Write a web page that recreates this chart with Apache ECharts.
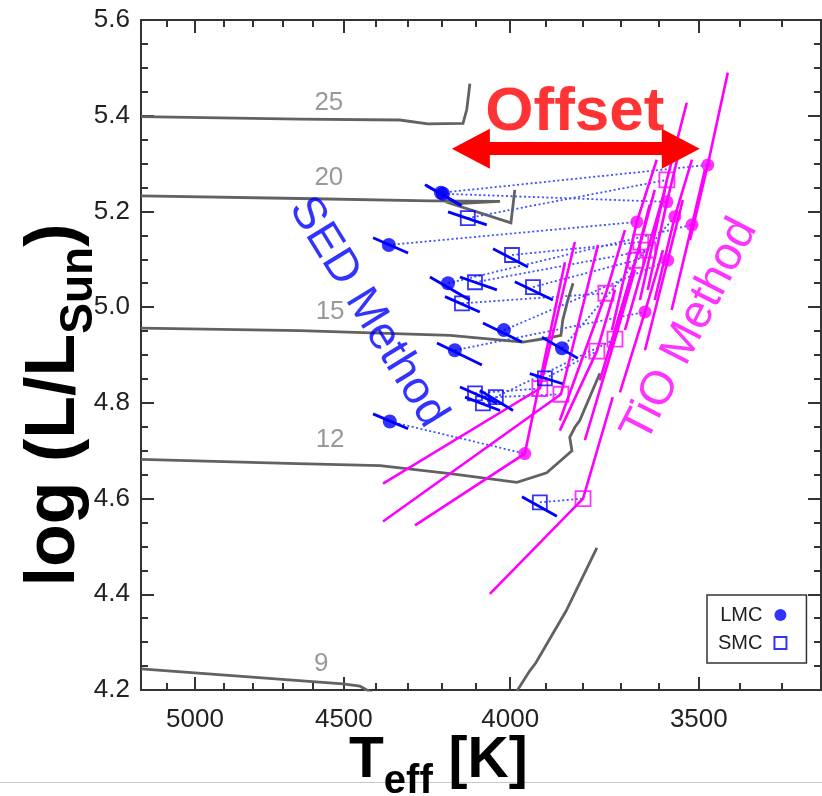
<!DOCTYPE html>
<html><head><meta charset="utf-8">
<script src="https://cdn.jsdelivr.net/npm/echarts@6/dist/echarts.min.js"></script>
<style>html,body{margin:0;padding:0;background:#fff;}#c{width:822px;height:796px;}</style>
</head><body><div id="c"></div>
<script>
// ---------- axis ticks ----------
const xMajorTicks = [3500, 4000, 4500, 5000];
const xMinorTicks = [3300, 3400, 3600, 3700, 3800, 3900, 4100, 4200, 4300, 4400, 4600, 4700, 4800, 4900, 5100];

// ---------- evolutionary tracks (Teff [K], log L) ----------
const track25Teff = [5195, 4642, 4325, 4240, 4136, 4125, 4119, 4116];
const track25LogL = [5.398, 5.393, 5.391, 5.383, 5.384, 5.413, 5.448, 5.467];
const track20Teff = [5195, 4642, 4234, 4029, 4169, 3998, 3987];
const track20LogL = [5.2325, 5.227, 5.222, 5.221, 5.216, 5.176, 5.245];
const track15Teff = [5195, 4642, 4174, 3964, 3898, 3859, 3854, 3840, 3826];
const track15LogL = [4.956, 4.951, 4.941, 4.927, 4.935, 4.941, 4.973, 5.015, 5.050];
const track12Teff = [5195, 4652, 4386, 4174, 3981, 3898, 3829, 3835, 3821, 3808, 3754];
const track12LogL = [4.682, 4.673, 4.669, 4.652, 4.634, 4.654, 4.700, 4.728, 4.749, 4.763, 4.862];
const track9Teff = [5195, 4503, 4449, 4411];
const track9LogL = [4.244, 4.213, 4.208, 4.194];
const track9RsgTeff = [3981, 3945, 3928, 3845, 3762];
const track9RsgLogL = [4.198, 4.240, 4.257, 4.365, 4.497];
const trackLabels = ['25', '20', '15', '12', '9'];
const trackLabelTeff = [4548, 4548, 4544, 4544, 4573];
const trackLabelLogL = [5.427, 5.270, 4.990, 4.722, 4.254];

// ---------- SED method, LMC (filled circles) ----------
const sedLmcTeff = [4201, 4195, 4359, 4180, 4018, 4160, 3856, 4356];
const sedLmcLogL = [5.239, 5.237, 5.130, 5.050, 4.952, 4.910, 4.914, 4.761];
const sedLmcHiTeff = [4249, 4245, 4408, 4234, 4078, 4213, 3911, 4408];
const sedLmcHiLogL = [5.256, 5.254, 5.145, 5.063, 4.967, 4.925, 4.937, 4.777];
const sedLmcLoTeff = [4145, 4140, 4300, 4116, 3967, 4081, 3813, 4300];
const sedLmcLoLogL = [5.214, 5.212, 5.113, 5.015, 4.927, 4.879, 4.893, 4.746];
// ---------- TiO method, LMC (same stars, same order) ----------
const tioLmcTeff = [3478, 3580, 3657, 3517, 3578, 3636, 3560, 3959];
const tioLmcLogL = [5.297, 5.220, 5.178, 5.172, 5.098, 4.990, 5.189, 4.694];
const tioLmcLoTeff = [3522, 3629, 3722, 3568, 3636, 3701, 3611, 4279];
const tioLmcLoLogL = [5.140, 5.036, 4.952, 4.994, 4.910, 4.822, 5.015, 4.544];
const tioLmcHiTeff = [3429, 3545, 3606, 3485, 3540, 3590, 3517, 3848];
const tioLmcHiLogL = [5.490, 5.339, 5.308, 5.287, 5.224, 5.119, 5.308, 5.094];

// ---------- SED method, SMC (open squares) ----------
const sedSmcTeff = [4122, 3995, 4101, 3936, 4139, 3903, 4101, 4041, 4078, 3917];
const sedSmcLogL = [5.186, 5.109, 5.052, 5.042, 5.008, 4.851, 4.820, 4.812, 4.799, 4.592];
const sedSmcHiTeff = [4180, 4049, 4145, 3987, 4189, 3945, 4145, 4087, 4130, 3967];
const sedSmcHiLogL = [5.199, 5.122, 5.063, 5.053, 5.022, 4.861, 4.833, 4.826, 4.812, 4.604];
const sedSmcLoTeff = [4067, 3950, 4038, 3881, 4087, 3854, 4038, 3992, 4029, 3870];
const sedSmcLoLogL = [5.172, 5.084, 5.036, 5.015, 4.990, 4.840, 4.799, 4.784, 4.784, 4.563];
// ---------- TiO method, SMC ----------
const tioSmcTeff = [3580, 3647, 3629, 3660, 3738, 3762, 3917, 3859, 3714, 3799];
const tioSmcLogL = [5.266, 5.136, 5.119, 5.098, 5.029, 4.908, 4.830, 4.818, 4.933, 4.600];
const tioSmcLoTeff = [3649, 3728, 3688, 3754, 3862, 3862, 4377, 4377, 3794, 4058];
const tioSmcLoLogL = [5.015, 4.910, 4.952, 4.847, 4.763, 4.742, 4.631, 4.552, 4.722, 4.401];
const tioSmcHiTeff = [3530, 3611, 3585, 3624, 3688, 3714, 3821, 3759, 3662, 3720];
const tioSmcHiLogL = [5.427, 5.245, 5.245, 5.214, 5.161, 5.036, 5.136, 5.130, 5.078, 4.812];

// ---------- helpers ----------
const FONT = '"Liberation Sans", Arial, Helvetica, sans-serif';
const pairs = (t, l) => t.map((v, i) => [v, l[i]]);
const tracks = [
  pairs(track25Teff, track25LogL), pairs(track20Teff, track20LogL),
  pairs(track15Teff, track15LogL), pairs(track12Teff, track12LogL),
  pairs(track9Teff, track9LogL), pairs(track9RsgTeff, track9RsgLogL)
];
const bars = (hiT, hiL, loT, loL) => hiT.map((v, i) => ({coords: [[v, hiL[i]], [loT[i], loL[i]]]}));
const tioLines = (loT, loL, t, l, hiT, hiL) => t.map((v, i) => ({coords: [[loT[i], loL[i]], [v, l[i]], [hiT[i], hiL[i]]]}));
const links = (t1, l1, t2, l2) => t1.map((v, i) => ({coords: [[v, l1[i]], [t2[i], l2[i]]]}));

const AX = '#333';
const xBase = {type: 'log', logBase: 10, min: 3210, max: 5195, inverse: true,
  axisLine: {show: false}, splitLine: {show: false}};
const tickStyle = {color: AX, width: 2};
const xAxes = [
  Object.assign({}, xBase, {position: 'bottom',
    axisTick: {inside: true, length: 13, lineStyle: tickStyle, customValues: xMajorTicks},
    axisLabel: {customValues: xMajorTicks, fontSize: 26, color: '#222', fontFamily: FONT, margin: 17,
      formatter: v => String(Math.round(v))}}),
  Object.assign({}, xBase, {position: 'bottom',
    axisTick: {inside: true, length: 7, lineStyle: tickStyle, customValues: xMinorTicks},
    axisLabel: {show: false}}),
  Object.assign({}, xBase, {position: 'top',
    axisTick: {inside: true, length: 13, lineStyle: tickStyle, customValues: xMajorTicks},
    axisLabel: {show: false}}),
  Object.assign({}, xBase, {position: 'top',
    axisTick: {inside: true, length: 7, lineStyle: tickStyle, customValues: xMinorTicks},
    axisLabel: {show: false}})
];
const yBase = {type: 'value', min: 4.2, max: 5.6, interval: 0.2, axisLine: {show: false}, splitLine: {show: false},
  axisTick: {inside: true, length: 13, lineStyle: tickStyle},
  minorTick: {show: true, splitNumber: 4, length: 7, lineStyle: tickStyle}};
const yAxes = [
  Object.assign({}, yBase, {position: 'left',
    axisLabel: {fontSize: 26, color: '#222', fontFamily: FONT, margin: 11, formatter: v => v.toFixed(1)}}),
  Object.assign({}, yBase, {position: 'right', axisLabel: {show: false}})
];

const option = {
  animation: false,
  backgroundColor: '#fff',
  grid: {left: 141, right: 1, top: 20, bottom: 106, show: true, borderColor: AX, borderWidth: 2, backgroundColor: 'transparent'},
  xAxis: xAxes,
  yAxis: yAxes,
  legend: {
    data: ['LMC', 'SMC'], orient: 'vertical', left: 707, top: 595, align: 'right',
    itemWidth: 12, itemHeight: 12, itemGap: 8, selectedMode: false,
    borderColor: AX, borderWidth: 1.5, padding: [10, 19, 10, 11],
    textStyle: {fontSize: 20, color: '#222', fontFamily: FONT, padding: [0, 7, 0, 0]}
  },
  series: [
    {type: 'lines', coordinateSystem: 'cartesian2d', polyline: true, silent: true, z: 1,
      lineStyle: {color: '#626262', width: 2.8, opacity: 1}, data: tracks.map(c => ({coords: c}))},
    {type: 'lines', coordinateSystem: 'cartesian2d', silent: true, z: 2,
      lineStyle: {color: '#3f52ff', width: 1.8, type: [2, 2.5], opacity: 1},
      data: links(sedLmcTeff, sedLmcLogL, tioLmcTeff, tioLmcLogL).concat(links(sedSmcTeff, sedSmcLogL, tioSmcTeff, tioSmcLogL))},
    {type: 'lines', coordinateSystem: 'cartesian2d', polyline: true, silent: true, z: 3,
      lineStyle: {color: '#ff00ff', width: 2.6, opacity: 1},
      data: tioLines(tioLmcLoTeff, tioLmcLoLogL, tioLmcTeff, tioLmcLogL, tioLmcHiTeff, tioLmcHiLogL)
        .concat(tioLines(tioSmcLoTeff, tioSmcLoLogL, tioSmcTeff, tioSmcLogL, tioSmcHiTeff, tioSmcHiLogL))},
    {name: 'TiO LMC', type: 'scatter', z: 4, symbol: 'circle', symbolSize: 13, silent: true,
      itemStyle: {color: '#ff00ff'}, data: pairs(tioLmcTeff, tioLmcLogL)},
    {name: 'TiO SMC', type: 'scatter', z: 4, symbol: 'rect', symbolSize: 15, silent: true,
      itemStyle: {color: 'rgba(255,255,255,0)', borderColor: '#ff00ff', borderWidth: 1.8}, data: pairs(tioSmcTeff, tioSmcLogL)},
    {type: 'lines', coordinateSystem: 'cartesian2d', silent: true, z: 5,
      lineStyle: {color: '#0000ff', width: 2.8, opacity: 1},
      data: bars(sedLmcHiTeff, sedLmcHiLogL, sedLmcLoTeff, sedLmcLoLogL).concat(bars(sedSmcHiTeff, sedSmcHiLogL, sedSmcLoTeff, sedSmcLoLogL))},
    {name: 'LMC', type: 'scatter', z: 6, symbol: 'circle', symbolSize: 14, silent: true,
      itemStyle: {color: '#0000ff'}, data: pairs(sedLmcTeff, sedLmcLogL)},
    {name: 'SMC', type: 'scatter', z: 6, symbol: 'rect', symbolSize: 14, silent: true,
      itemStyle: {color: 'rgba(255,255,255,0)', borderColor: '#0000ff', borderWidth: 1.8}, data: pairs(sedSmcTeff, sedSmcLogL)},
    {type: 'scatter', z: 7, symbolSize: 0, silent: true,
      label: {show: true, position: 'inside', formatter: p => p.name, color: '#808080', fontSize: 26, fontFamily: FONT},
      data: trackLabels.map((n, i) => ({name: n, value: [trackLabelTeff[i], trackLabelLogL[i]]}))},
    {type: 'scatter', z: 8, symbolSize: 0, silent: true,
      label: {show: true, position: 'inside', formatter: p => p.name, fontFamily: FONT},
      data: [
        {name: 'Offset', value: [3821, 5.405], label: {fontSize: 62, fontWeight: 'bold', color: '#ff0000'}},
        {name: 'SED Method', value: [4424, 4.9895], label: {fontSize: 46, color: '#0000ff', rotate: -58.4}},
        {name: 'TiO Method', value: [3522, 4.9518], label: {fontSize: 47, color: '#ff00ff', rotate: 62.8}}
      ],
      markLine: {silent: true, animation: false, symbol: ['triangle', 'triangle'], symbolSize: [40, 38],
        lineStyle: {color: '#ff0000', width: 13, type: 'solid', opacity: 1}, label: {show: false},
        emphasis: {disabled: true},
        data: [[{coord: [4113, 5.331]}, {coord: [3545, 5.331]}]]}
    }
  ],
  graphic: [
    {type: 'line', shape: {x1: 0, y1: 782.5, x2: 822, y2: 782.5}, style: {stroke: '#c8c8c8', lineWidth: 1}, z: -1},
    {type: 'text', x: 349, y: 761, z: 10, style: {
      text: '{a|T}{b|eff}{a| [K]}', align: 'left', verticalAlign: 'middle',
      rich: {a: {fontSize: 57, fontWeight: 'bold', fontFamily: FONT, lineHeight: 82, verticalAlign: 'middle', fill: '#000'},
             b: {fontSize: 40, fontWeight: 'bold', fontFamily: FONT, lineHeight: 82, verticalAlign: 'bottom', fill: '#000'}}}},
    {type: 'text', x: 55, y: 405, rotation: Math.PI / 2, z: 10, style: {
      text: '{a|log (L/L}{b|Sun}{a|)}', align: 'center', verticalAlign: 'middle',
      rich: {a: {fontSize: 70, fontWeight: 'bold', fontFamily: FONT, lineHeight: 94, verticalAlign: 'middle', fill: '#000'},
             b: {fontSize: 46, fontWeight: 'bold', fontFamily: FONT, lineHeight: 94, verticalAlign: 'bottom', fill: '#000'}}}}
  ]
};
const chart = echarts.init(document.getElementById('c'), null, {renderer: 'canvas'});
chart.setOption(option);
</script></body></html>
